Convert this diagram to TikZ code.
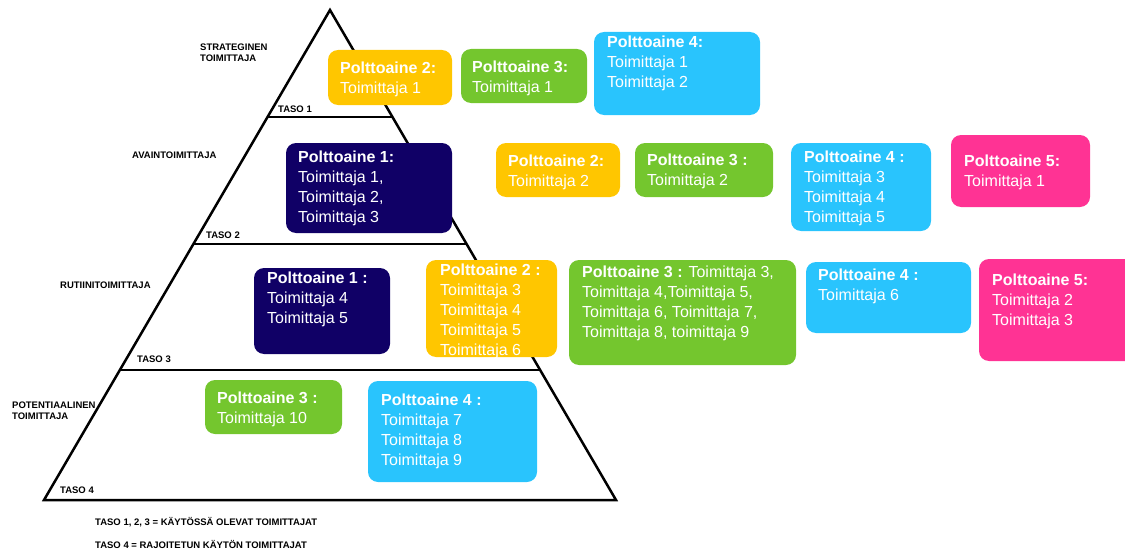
\documentclass[tikz,border=0pt]{standalone}
\usepackage{fontspec}
\setmainfont{Liberation Sans}
\usetikzlibrary{calc}

\definecolor{fuelyellow}{RGB}{255,198,0}
\definecolor{fuelgreen}{RGB}{116,198,46}
\definecolor{fuelblue}{RGB}{41,196,253}
\definecolor{fuelnavy}{RGB}{16,0,102}
\definecolor{fuelpink}{RGB}{255,51,148}

\tikzset{
  fuelbox/.style={rounded corners=10pt, draw=none, inner sep=0pt, outer sep=0pt, anchor=north west},
  fueltxt/.style={anchor=north west, inner sep=0pt, align=left, text=white,
                  font=\fontsize{16}{20}\selectfont},
  tierlabel/.style={anchor=base west, inner sep=0pt,
                    font=\fontsize{9.5}{11}\selectfont\bfseries},
  tierlabeltwo/.style={anchor=north west, inner sep=0pt, align=left,
                    font=\fontsize{9.5}{11}\selectfont\bfseries},
  pyramid/.style={line width=2.5pt, line join=miter, draw=black}
}

\begin{document}
\begin{tikzpicture}[x=1pt,y=-1pt]
\useasboundingbox (0,0) rectangle (1125,551);
\clip (0,0) rectangle (1125,551);

% pyramid outline and level separators
\coordinate (apex) at (330,10);
\coordinate (bl) at (44,500);
\coordinate (br) at (616,500);
\draw[pyramid] (apex) -- (bl) -- (br) -- cycle;
\coordinate (l1a) at (267.5,117);  \coordinate (l1b) at (392.5,117);
\coordinate (l2a) at (193.4,244);  \coordinate (l2b) at (466.6,244);
\coordinate (l3a) at (119.9,370);  \coordinate (l3b) at (540.1,370);
\draw[pyramid] (l1a) -- (l1b);
\draw[pyramid] (l2a) -- (l2b);
\draw[pyramid] (l3a) -- (l3b);

% level names
\node[tierlabeltwo] (strat) at (200,43.6) {STRATEGINEN\\TOIMITTAJA};
\node[tierlabel] (taso1) at (278,112.4) {TASO 1};
\node[tierlabel] (avain) at (132,158.4) {AVAINTOIMITTAJA};
\node[tierlabel] (taso2) at (206,238.4) {TASO 2};
\node[tierlabel] (rutiini) at (60,288.4) {RUTIINITOIMITTAJA};
\node[tierlabel] (taso3) at (137,362.4) {TASO 3};
\node[tierlabeltwo] (potent) at (12,401.6) {POTENTIAALINEN\\TOIMITTAJA};
\node[tierlabel] (taso4) at (60,493.4) {TASO 4};
\node[tierlabel] (note1) at (95,525.4) {TASO 1, 2, 3 = KÄYTÖSSÄ OLEVAT TOIMITTAJAT};
\node[tierlabel] (note2) at (95,548.4) {TASO 4 = RAJOITETUN KÄYTÖN TOIMITTAJAT};

% level 1 boxes
\node[fuelbox, fill=fuelyellow, minimum width=124pt, minimum height=55pt] (a2) at (328,50) {};
\node[fueltxt] (a2t) at (340,62) {\textbf{Polttoaine 2:}\\Toimittaja 1};
\node[fuelbox, fill=fuelgreen, minimum width=126pt, minimum height=54pt] (a3) at (461,49) {};
\node[fueltxt] (a3t) at (472,61) {\textbf{Polttoaine 3:}\\Toimittaja 1};
\node[fuelbox, fill=fuelblue, minimum width=166pt, minimum height=83pt] (a4) at (594,32) {};
\node[fueltxt] (a4t) at (607,36) {\textbf{Polttoaine 4:}\\Toimittaja 1\\Toimittaja 2};

% level 2 boxes
\node[fuelbox, fill=fuelnavy, minimum width=166pt, minimum height=90pt] (b1) at (286,143) {};
\node[fueltxt] (b1t) at (298,151) {\textbf{Polttoaine 1:}\\Toimittaja 1,\\Toimittaja 2,\\Toimittaja 3};
\node[fuelbox, fill=fuelyellow, minimum width=124pt, minimum height=54pt] (b2) at (496,143) {};
\node[fueltxt] (b2t) at (508,155) {\textbf{Polttoaine 2:}\\Toimittaja 2};
\node[fuelbox, fill=fuelgreen, minimum width=138pt, minimum height=54pt] (b3) at (635,143) {};
\node[fueltxt] (b3t) at (647,154) {\textbf{Polttoaine 3 :}\\Toimittaja 2};
\node[fuelbox, fill=fuelblue, minimum width=140pt, minimum height=88pt] (b4) at (791,143) {};
\node[fueltxt] (b4t) at (804,151) {\textbf{Polttoaine 4 :}\\Toimittaja 3\\Toimittaja 4\\Toimittaja 5};
\node[fuelbox, fill=fuelpink, minimum width=139pt, minimum height=72pt] (b5) at (951,135) {};
\node[fueltxt] (b5t) at (964,155) {\textbf{Polttoaine 5:}\\Toimittaja 1};

% level 3 boxes
\node[fuelbox, fill=fuelnavy, minimum width=136pt, minimum height=86pt] (c1) at (254,268) {};
\node[fueltxt] (c1t) at (267,272) {\textbf{Polttoaine 1 :}\\Toimittaja 4\\Toimittaja 5};
\node[fuelbox, fill=fuelyellow, minimum width=131pt, minimum height=97pt] (c2) at (426,260) {};
\node[fueltxt] (c2t) at (440,264) {\textbf{Polttoaine 2 :}\\Toimittaja 3\\Toimittaja 4\\Toimittaja 5\\Toimittaja 6};
\node[fuelbox, fill=fuelgreen, minimum width=227pt, minimum height=105pt] (c3) at (569,260) {};
\node[fueltxt] (c3t) at (582,266) {\textbf{Polttoaine 3 :} Toimittaja 3,\\Toimittaja 4,Toimittaja 5,\\Toimittaja 6, Toimittaja 7,\\Toimittaja 8, toimittaja 9};
\node[fuelbox, fill=fuelblue, minimum width=165pt, minimum height=71pt] (c4) at (806,262) {};
\node[fueltxt] (c4t) at (818,269) {\textbf{Polttoaine 4 :}\\Toimittaja 6};
\node[fuelbox, fill=fuelpink, minimum width=160pt, minimum height=102pt] (c5) at (979,259) {};
\node[fueltxt] (c5t) at (992,274) {\textbf{Polttoaine 5:}\\Toimittaja 2\\Toimittaja 3};

% level 4 boxes
\node[fuelbox, fill=fuelgreen, minimum width=137pt, minimum height=54pt] (d3) at (205,380) {};
\node[fueltxt] (d3t) at (217,392) {\textbf{Polttoaine 3 :}\\Toimittaja 10};
\node[fuelbox, fill=fuelblue, minimum width=169pt, minimum height=101pt] (d4) at (368,381) {};
\node[fueltxt] (d4t) at (381,394) {\textbf{Polttoaine 4 :}\\Toimittaja 7\\Toimittaja 8\\Toimittaja 9};
\end{tikzpicture}
\end{document}
